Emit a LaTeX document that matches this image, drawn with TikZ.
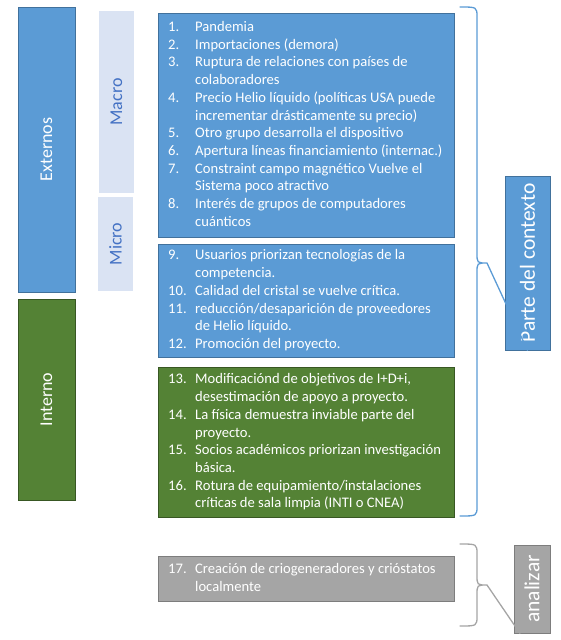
\documentclass[tikz,border=0pt]{standalone}
\usepackage{fontspec}
\setmainfont{Carlito}
\usetikzlibrary{positioning}
\definecolor{boxblue}{RGB}{91,155,213}
\definecolor{lineblue}{RGB}{65,113,156}
\definecolor{boxgreen}{RGB}{84,130,53}
\definecolor{linegreen}{RGB}{56,87,35}
\definecolor{paleblue}{RGB}{218,227,243}
\definecolor{textblue}{RGB}{68,114,196}
\definecolor{boxgray}{RGB}{165,165,165}
\definecolor{linegray}{RGB}{125,125,125}
\newcommand{\risklist}[1]{\begin{tabular}{@{}p{27pt}@{}l@{}}#1\end{tabular}}

\begin{document}
\begin{tikzpicture}[x=1pt,y=1pt,
  catbox/.style={rotate=90,minimum height=57pt,inner sep=0pt,line width=0.75pt,text=white,font=\fontsize{18}{22}\selectfont},
  sublabel/.style={rotate=90,fill=paleblue,minimum height=35pt,inner sep=0pt,text=textblue,font=\fontsize{18}{22}\selectfont},
  listbox/.style={draw=lineblue,fill=boxblue,minimum width=296pt,anchor=north west,inner sep=0pt,line width=0.75pt},
  listtext/.style={anchor=west,inner sep=0pt,text=white,font=\fontsize{14.6}{17.7}\selectfont},
  tagbox/.style={rotate=90,inner sep=0pt,line width=0.75pt,text=white,font=\fontsize{21.5}{26}\selectfont},
  bracket/.style={line width=1.3pt,line cap=round}]
  \useasboundingbox (0,0) rectangle (560,-640);
  % left column
  \node[catbox,fill=boxblue,draw=lineblue,minimum width=285pt] (ext) at (46.5,-149.5) {Externos};
  \node[catbox,fill=boxgreen,draw=linegreen,minimum width=201pt] (int) at (46.5,-399.5) {Interno};
  \node[sublabel,minimum width=182pt] (macro) at (116.5,-102) {Macro};
  \node[sublabel,minimum width=94pt] (micro) at (115.5,-244) {Micro};
  % lists
  \node[listbox,minimum height=224pt] (macrob) at (158,-13) {};
  \node[listbox,minimum height=113pt,below=6pt of macrob.south west,anchor=north west] (microb) {};
  \node[listbox,fill=boxgreen,draw=linegreen,minimum height=150pt] (intb) at (158,-367) {};
  \node[listbox,fill=boxgray,draw=linegray,minimum height=45pt] (grayb) at (158,-556) {};
  \node[listtext] (macrot) at ([xshift=10pt]macrob.west) {\risklist{
    1. & Pandemia\\
    2. & Importaciones (demora)\\
    3. & Ruptura de relaciones con países de\\
       & colaboradores\\
    4. & Precio Helio líquido (políticas USA puede\\
       & incrementar drásticamente su precio)\\
    5. & Otro grupo desarrolla el dispositivo\\
    6. & Apertura líneas financiamiento (internac.)\\
    7. & Constraint campo magnético Vuelve el\\
       & Sistema poco atractivo\\
    8. & Interés de grupos de computadores\\
       & cuánticos}};
  \node[listtext] (microt) at ([xshift=10pt]microb.west) {\risklist{
    9. & Usuarios priorizan tecnologías de la\\
       & competencia.\\
    10. & Calidad del cristal se vuelve crítica.\\
    11. & reducción/desaparición de proveedores\\
        & de Helio líquido.\\
    12. & Promoción del proyecto.}};
  \node[listtext] (intt) at ([xshift=10pt]intb.west) {\risklist{
    13. & Modificaciónd de objetivos de I+D+i,\\
        & desestimación de apoyo a proyecto.\\
    14. & La física demuestra inviable parte del\\
        & proyecto.\\
    15. & Socios académicos priorizan investigación\\
        & básica.\\
    16. & Rotura de equipamiento/instalaciones\\
        & críticas de sala limpia (INTI o CNEA)}};
  \node[listtext] (grayt) at ([xshift=10pt]grayb.west) {\risklist{
    17. & Creación de criogeneradores y crióstatos\\
        & localmente}};
  % right column
  \node[tagbox,fill=boxblue,draw=lineblue,minimum width=174pt,minimum height=45pt] (ctx) at (527.5,-263) {Parte del contexto};
  \node[tagbox,fill=boxgray,draw=linegray,minimum width=88pt,minimum height=36pt] (anl) at (532,-589) {analizar};
  \coordinate (ctop) at (460,-7);
  \coordinate (cbot) at (460,-516);
  \coordinate (atop) at (460,-544);
  \coordinate (abot) at (460,-626);
  \draw[bracket,boxblue] (ctop) .. controls (477,-7) .. (477,-17) -- (477,-253)
    .. controls (477,-263) .. (487,-263) -- (ctx.west)
    (487,-263) .. controls (477,-263) .. (477,-273) -- (477,-506)
    .. controls (477,-516) .. (cbot);
  \draw[bracket,boxgray] (atop) .. controls (477,-544) .. (477,-554) -- (477,-575)
    .. controls (477,-585) .. (487,-585) -- ([xshift=-12pt]anl.west)
    (487,-585) .. controls (477,-585) .. (477,-595) -- (477,-616)
    .. controls (477,-626) .. (abot);
\end{tikzpicture}
\end{document}
